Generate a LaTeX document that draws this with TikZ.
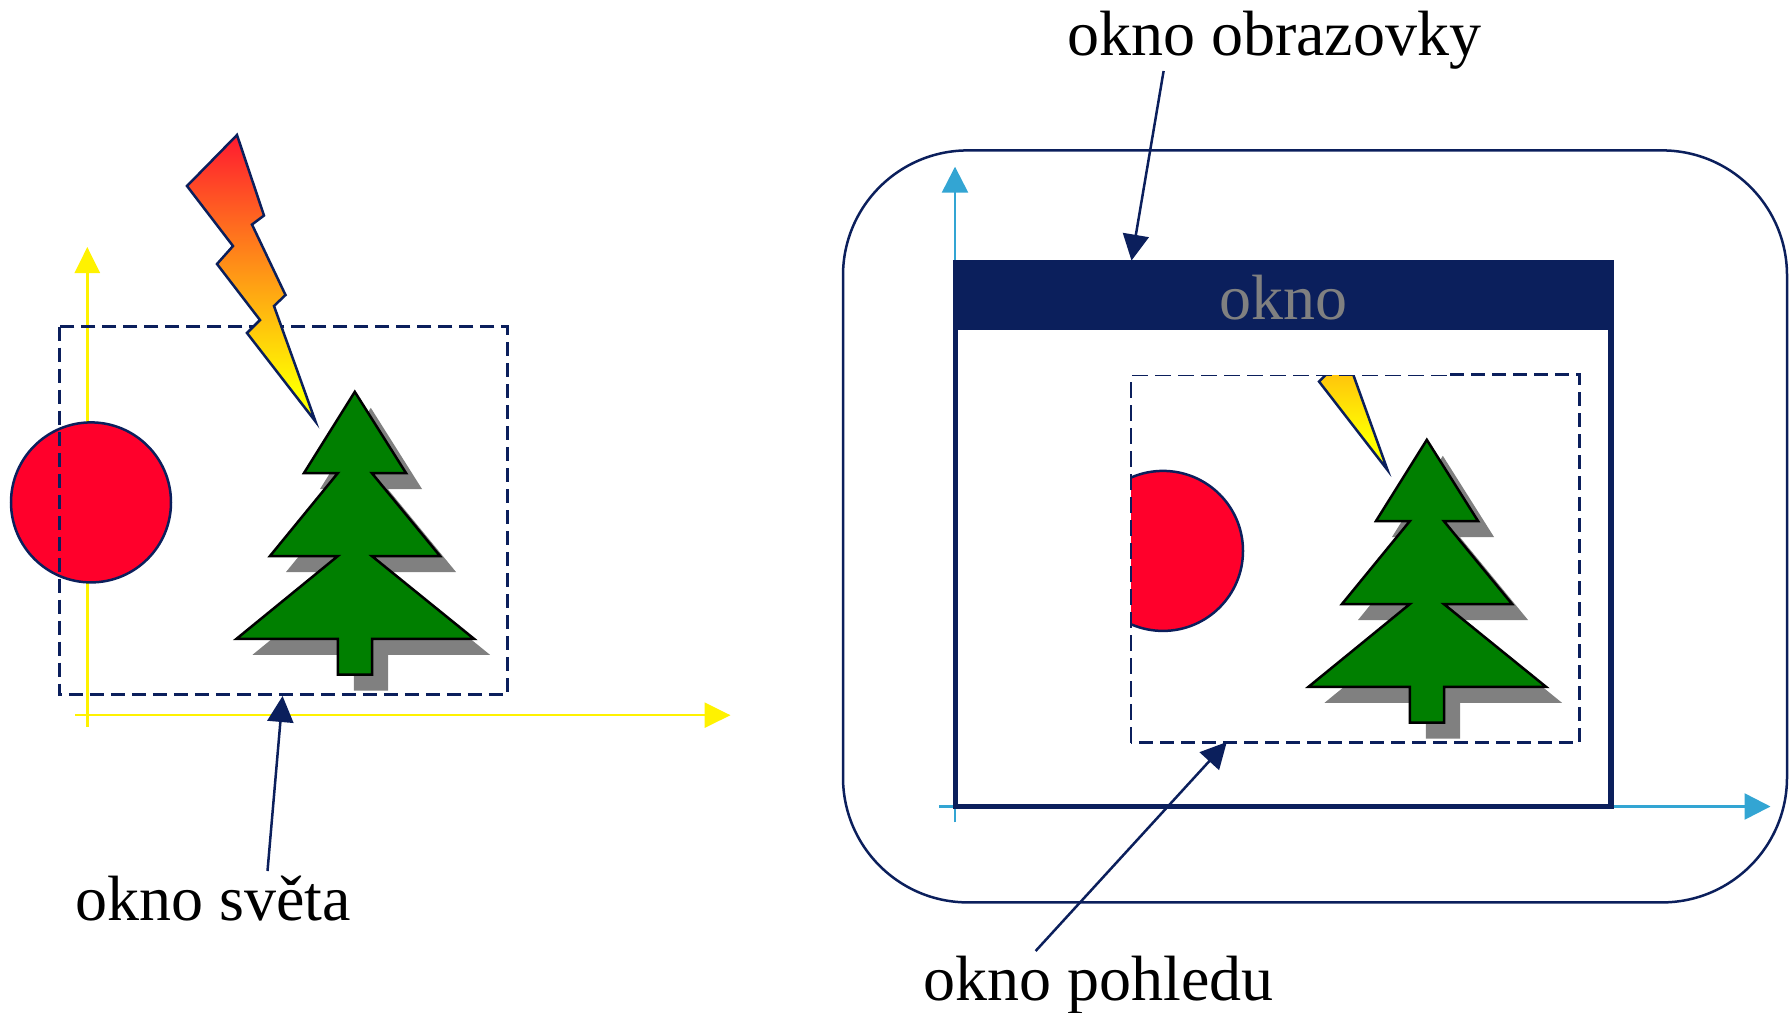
\documentclass[tikz,border=0pt]{standalone}
\usepackage{fontspec}
\setmainfont{Liberation Serif}
\usetikzlibrary{arrows.meta}
\definecolor{navy}{HTML}{0B1F5C}
\definecolor{leaf}{HTML}{007F00}
\definecolor{ballred}{HTML}{FF002B}
\definecolor{axisblue}{HTML}{33A5D3}
\definecolor{boltred}{HTML}{FF1A30}
\pgfdeclareverticalshading{boltshade}{100bp}{color(0bp)=(yellow); color(30.5bp)=(yellow); color(75bp)=(boltred); color(100bp)=(boltred)}
\newcommand{\BoltPath}{(237,135) -- (187,186) -- (233,246) -- (217,264) -- (260,320) -- (247,333) -- (315.5,421.5) -- (274,306) -- (285.5,295) -- (252,224.5) -- (264,215.5) -- cycle}
\newcommand{\TreePath}{(354.8,391.8) -- (406,473) -- (371.8,473) -- (440,556) -- (371.8,556) -- (474,638.8) -- (372,638.8) -- (372,674.7) -- (337.9,674.7) -- (337.9,638.8) -- (236.5,638.8) -- (337.9,556) -- (270,556) -- (337.9,473) -- (304,473) -- cycle}
\tikzset{
  labeltext/.style={inner sep=0pt,anchor=base west,font=\fontsize{64}{70}\selectfont},
  bolt/.style={draw=navy,line width=2.5pt,shading=boltshade},
  treeshade/.style={fill=gray},
  tree/.style={draw=black,fill=leaf,line width=2.5pt,line join=miter},
  ball/.style={draw=navy,fill=ballred,line width=2.5pt},
  dashbox/.style={draw=navy,line width=3pt,dash pattern=on 14pt off 7pt},
  thindash/.style={draw=navy,line width=1.8pt,dash pattern=on 15.5pt off 7.5pt},
  pointer/.style={draw=navy,line width=2.5pt,-{Triangle[length=26pt,width=26pt]}},
  yaxis/.style={draw=yellow,line width=2.5pt,-{Triangle[length=26pt,width=25pt]}},
  baxis/.style={draw=axisblue,line width=2.5pt,-{Triangle[length=26pt,width=26pt]}},
}
\begin{document}
\begin{tikzpicture}[x=1pt,y=-1pt]
\useasboundingbox (0,0) rectangle (1791,1012);
% left axes
\coordinate (yb) at (87.3,726.5); \coordinate (yt) at (87.3,247);
\coordinate (xl) at (75,715.2); \coordinate (xr) at (730.5,715.2);
\draw[yaxis] (yb) -- (yt);
\draw[yaxis] (xl) -- (xr);
% left scene
\draw[ball] (91,502.4) circle[radius=80];
\draw[dashbox] (59,326.5) rectangle (507,694.7);
\draw[bolt] \BoltPath;
\fill[treeshade,shift={(16,16)}] \TreePath;
\draw[tree] \TreePath;
% screen
\draw[navy,line width=2.5pt,rounded corners=125pt] (843,150.4) rectangle (1787,902.4);
\coordinate (vb) at (955,822.4); \coordinate (vt) at (955,166.7);
\coordinate (hl) at (939,806.5); \coordinate (hr) at (1770.5,806.5);
\draw[baxis] (vb) -- (vt);
\draw[baxis] (hl) -- (hr);
% window
\fill[white] (955,300) rectangle (1611,806.5);
\draw[navy,line width=5.5pt] (955.3,300) rectangle (1610.9,806.7);
\fill[navy] (952.5,259.6) rectangle (1613.8,329.5);
\node[labeltext,text=gray,anchor=base] (okno) at (1283,319) {okno};
% view scene
\begin{scope}
\clip (1131,375) rectangle (1579,742.5);
\draw[ball] (1163,550.9) circle[radius=80];
\begin{scope}[shift={(1072,48.5)}]
\draw[bolt] \BoltPath;
\end{scope}
\end{scope}
\draw[thindash] (1131,742.5) -- (1131,375.5) -- (1450,375.5);
\draw[dashbox] (1450,374) -- (1579,374) -- (1579,742.5) -- (1131,742.5);
\begin{scope}[shift={(1072,48)}]
\fill[treeshade,shift={(16,16)}] \TreePath;
\draw[tree] \TreePath;
\end{scope}
% labels and pointers
\node[labeltext] (lsveta) at (75.4,920) {okno světa};
\node[labeltext] (lobraz) at (1067,55) {okno obrazovky};
\node[labeltext] (lpohl) at (923,1000) {okno pohledu};
\coordinate (s1) at (267.5,871); \coordinate (t1) at (282.6,696);
\coordinate (s2) at (1163.6,71); \coordinate (t2) at (1131.5,260.6);
\coordinate (s3) at (1035.6,951); \coordinate (t3) at (1226.8,742);
\draw[pointer] (s1) -- (t1);
\draw[pointer] (s2) -- (t2);
\draw[pointer] (s3) -- (t3);
\end{tikzpicture}
\end{document}
